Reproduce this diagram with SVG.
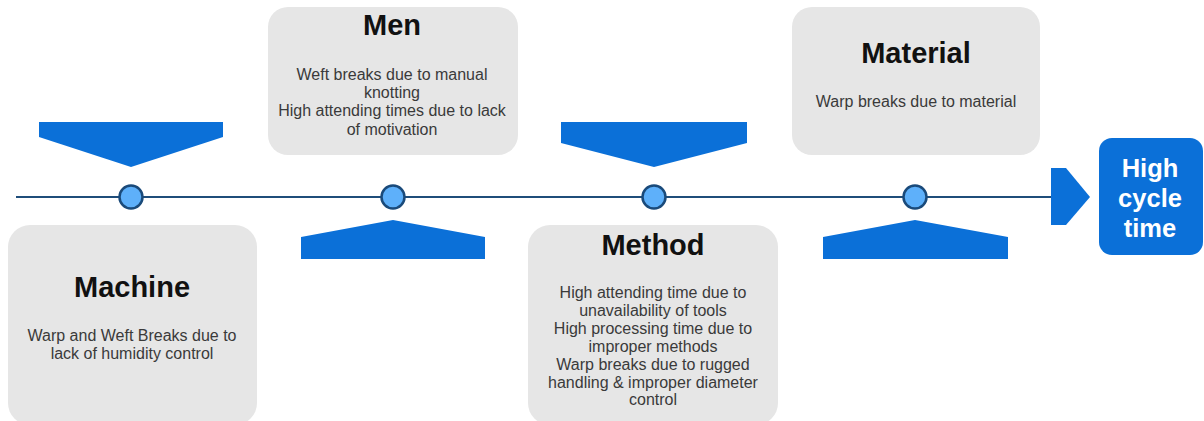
<svg xmlns="http://www.w3.org/2000/svg" width="1204" height="421" viewBox="0 0 1204 421">
<style>
.box{fill:#e6e6e6}
.title{font-family:"Liberation Sans",Arial,sans-serif;font-weight:bold;font-size:29px;fill:#111;text-anchor:middle}
.body{font-family:"Liberation Sans",Arial,sans-serif;font-size:16px;fill:#3a3a3a;text-anchor:middle}
.pent{fill:#0b70d8}
.dot{fill:#5eb0fa;stroke:#1a4a7a;stroke-width:2.5}
.hct{font-family:"Liberation Sans",Arial,sans-serif;font-weight:bold;font-size:25.5px;fill:#fff;text-anchor:middle}
</style>
<rect width="1204" height="421" fill="#fff"/>
<g id="connectors">
<line x1="16" y1="197" x2="1052" y2="197" stroke="#1f4d7a" stroke-width="2"/>
<polygon class="pent" points="1051,168 1066,168 1090,197 1066,225 1051,225"/>
</g>
<g id="pointers">
<polygon class="pent" points="39,122 223,122 223,137 131,167 39,137"/>
<polygon class="pent" points="561,122 747,122 747,143 654,167 561,143"/>
<polygon class="pent" points="301,259 485,259 485,237 393,220 301,237"/>
<polygon class="pent" points="823,259 1008,259 1008,237 915,220 823,237"/>
</g>
<g id="dots">
<circle class="dot" cx="131" cy="197" r="11.5"/>
<circle class="dot" cx="393" cy="197" r="11.5"/>
<circle class="dot" cx="654" cy="197" r="11.5"/>
<circle class="dot" cx="915" cy="197" r="11.5"/>
</g>
<g id="men">
<rect class="box" x="268" y="7" width="250" height="148" rx="20"/>
<text class="title" x="392" y="35">Men</text>
<text class="body" x="392" y="80">Weft breaks due to manual</text>
<text class="body" x="392" y="98">knotting</text>
<text class="body" x="392" y="116">High attending times due to lack</text>
<text class="body" x="392" y="135">of motivation</text>
</g>
<g id="material">
<rect class="box" x="792" y="7" width="248" height="148" rx="20"/>
<text class="title" x="916" y="63">Material</text>
<text class="body" x="916" y="107">Warp breaks due to material</text>
</g>
<g id="machine">
<rect class="box" x="8" y="225" width="249" height="200" rx="22"/>
<text class="title" x="132" y="297">Machine</text>
<text class="body" x="132" y="341">Warp and Weft Breaks due to</text>
<text class="body" x="132" y="359">lack of humidity control</text>
</g>
<g id="method">
<rect class="box" x="528" y="225" width="250" height="200" rx="22"/>
<text class="title" x="653" y="255">Method</text>
<text class="body" x="653" y="298">High attending time due to</text>
<text class="body" x="653" y="316">unavailability of tools</text>
<text class="body" x="653" y="334">High processing time due to</text>
<text class="body" x="653" y="352">improper methods</text>
<text class="body" x="653" y="370">Warp breaks due to rugged</text>
<text class="body" x="653" y="388">handling &amp; improper diameter</text>
<text class="body" x="653" y="405">control</text>
</g>
<g id="high-cycle-time">
<rect x="1099" y="138" width="104" height="117" rx="13" fill="#0b70d8"/>
<text class="hct" x="1150" y="177">High</text>
<text class="hct" x="1150" y="207">cycle</text>
<text class="hct" x="1150" y="237">time</text>
</g>
</svg>
